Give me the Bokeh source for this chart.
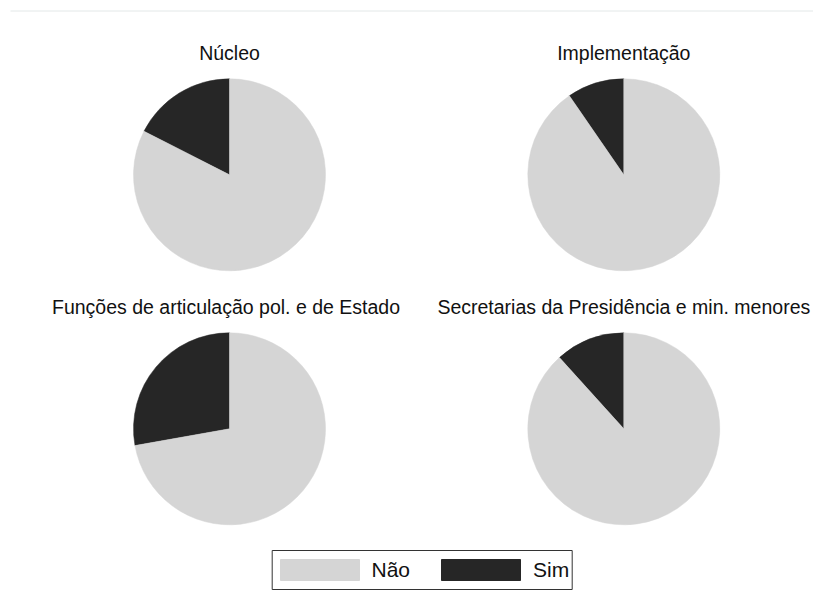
import math
from bokeh.plotting import figure
from bokeh.models import Range1d, ColumnDataSource
from bokeh.core.properties import value
from bokeh.embed import file_html
from bokeh.resources import INLINE

# ---- data ----
groups = ["Núcleo", "Implementação",
          "Funções de articulação pol. e de Estado",
          "Secretarias da Presidência e min. menores"]
categories = ["Não", "Sim"]
sim_pct = [17.5, 9.6, 27.8, 11.7]
nao_pct = [82.5, 90.4, 72.2, 88.3]
colors = ["#d5d5d5", "#262626"]

# ---- layout (image pixels) ----
W, H = 813, 594
TOP = 610  # data y = TOP - image_y
col_x = [229.0, 623.3]
row_y = [174.3, 428.3]
title_x = [229.0, 623.3, 225.5, 623.3]
title_base = [52.5, 306.5]
R = 96.0
FONT = value("Liberation Sans")

p = figure(width=W, height=H, x_range=Range1d(0, W), y_range=Range1d(TOP - H, TOP),
           output_backend="svg", toolbar_location=None, min_border=0,
           x_axis_location=None, y_axis_location=None)
p.grid.visible = False
p.outline_line_color = None
p.background_fill_color = "white"
p.border_fill_color = "white"

# faint top frame line
p.segment(x0=[10], y0=[TOP - 10.5], x1=[W], y1=[TOP - 10.5], line_color="#e3e8e8", line_width=1)

xs, ys, starts, ends, cols = [], [], [], [], []
tx, ty = [], []
for i, g in enumerate(groups):
    cx = col_x[i % 2]
    cy = TOP - row_y[i // 2]
    total = sim_pct[i] + nao_pct[i]
    a_sim = sim_pct[i] / total * 2 * math.pi
    start = math.pi / 2
    # Sim slice: from 12 o'clock counterclockwise
    xs.append(cx); ys.append(cy); starts.append(start); ends.append(start + a_sim); cols.append(colors[1])
    # Não slice: remainder
    xs.append(cx); ys.append(cy); starts.append(start + a_sim); ends.append(start + 2 * math.pi); cols.append(colors[0])
    tx.append(title_x[i]); ty.append(TOP - title_base[i // 2])

src = ColumnDataSource(dict(x=xs, y=ys, s=starts, e=ends, c=cols))
p.wedge(x="x", y="y", radius=R, start_angle="s", end_angle="e", fill_color="c",
        line_color="c", line_width=0.5, source=src)

p.text(x=tx, y=ty, text=groups, text_align="center", text_baseline="alphabetic",
       text_font=FONT, text_font_size="19.5px", text_color="#111111")

# ---- legend ----
box_l, box_r, box_t, box_b = 271.7, 571.7, 550.0, 589.0
p.quad(left=[box_l], right=[box_r], top=[TOP - box_t], bottom=[TOP - box_b],
       fill_color=None, line_color="#333333", line_width=1)
sw_l = [280.0, 441.0]
sw_w = 79.0
sw_t, sw_b = 559.0, 580.0
p.quad(left=sw_l, right=[v + sw_w for v in sw_l], top=[TOP - sw_t] * 2, bottom=[TOP - sw_b] * 2,
       fill_color=colors, line_color=colors)
p.text(x=[371.0, 532.5], y=[TOP - 568.5] * 2, text=categories, text_align="left",
       text_baseline="middle", text_font=FONT, text_font_size="21px", text_color="#111111")

open("out.html", "w").write(file_html(p, INLINE))
